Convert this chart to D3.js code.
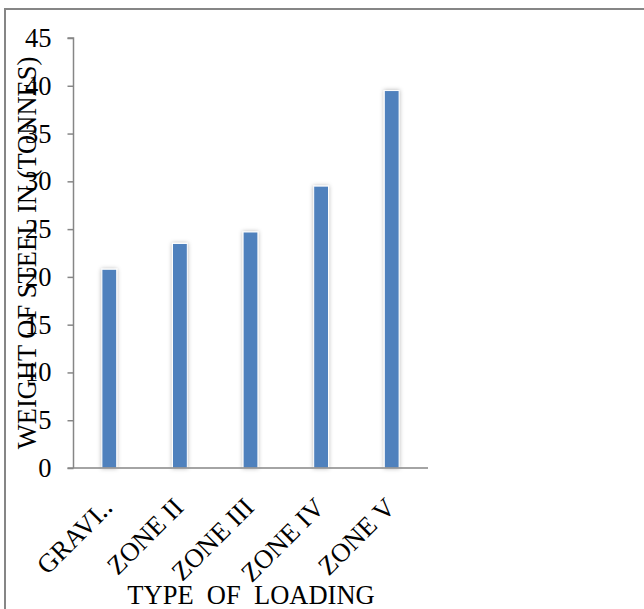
<!DOCTYPE html>
<html><head><meta charset="utf-8">
<script src="https://cdn.jsdelivr.net/npm/d3@7"></script>
<style>body{margin:0;background:#fff}svg{display:block}</style>
</head><body>
<script>
const categories = ["GRAVI\u2025", "ZONE II", "ZONE III", "ZONE IV", "ZONE V"];
const values = [20.8, 23.5, 24.7, 29.5, 39.5];
const yTicks = [0, 5, 10, 15, 20, 25, 30, 35, 40, 45];
const yTitle = "WEIGHT OF STEEL IN (TONNES)";
const xTitle = "TYPE  OF  LOADING";

const W = 644, H = 609;
const font = "'Liberation Serif','Times New Roman',serif";
const svg = d3.select("body").append("svg").attr("width", W).attr("height", H);

const defs = svg.append("defs");
const f = defs.append("filter").attr("id","sh").attr("x","-60%").attr("y","-5%").attr("width","220%").attr("height","110%");
f.append("feDropShadow").attr("dx",0).attr("dy",0).attr("stdDeviation",2).attr("flood-color","#000").attr("flood-opacity",0.3);

svg.append("rect").attr("x",5).attr("y",9).attr("width",700).attr("height",700)
  .attr("fill","#fff").attr("stroke","#868686").attr("stroke-width",2);

const x0 = 73.5, x1 = 428, yTop = 38, yBot = 468;
const x = d3.scaleBand().domain(categories).range([x0 + 0.5, x1 - 1]).paddingInner(0.79).paddingOuter(0.395);
const y = d3.scaleLinear().domain([0, 45]).range([yBot, yTop]);

// bars
svg.append("g").selectAll("rect").data(values).join("rect")
  .attr("x",(d,i)=>x(categories[i]))
  .attr("width",x.bandwidth())
  .attr("y",d=>y(d))
  .attr("height",d=>y(0)-y(d))
  .attr("fill","#4F81BD")
  .attr("stroke","#fff").attr("stroke-width",1)
  .attr("filter","url(#sh)");

// y axis
const ya = svg.append("g").attr("transform",`translate(${x0},0)`)
  .call(d3.axisLeft(y).tickValues(yTicks).tickSize(6).tickPadding(16).tickFormat(d3.format("d")));
ya.select(".domain").attr("stroke","#868686").attr("stroke-width",1.5).attr("d",`M-6,${yTop}H0V${yBot}`);
ya.selectAll(".tick line").attr("stroke","#868686").attr("stroke-width",1.5);
ya.selectAll(".tick text").attr("font-family",font).attr("font-size",26.5).attr("fill","#000");

// x axis
const xa = svg.append("g").attr("transform",`translate(0,${yBot})`)
  .call(d3.axisBottom(x).tickSize(0).tickPadding(0));
xa.select(".domain").attr("stroke","#868686").attr("stroke-width",1.5).attr("d",`M${x0-6},0H${x1}`);
xa.selectAll(".tick text")
  .attr("font-family",font).attr("font-size",26.5).attr("fill","#000")
  .attr("text-anchor","end").attr("dy",0).attr("y",0)
  .attr("transform","translate(5,41) rotate(-45)");

// titles
svg.append("text").attr("transform",`translate(36,${(yTop+yBot)/2}) rotate(-90)`)
  .attr("text-anchor","middle").attr("font-family",font).attr("font-size",26.5).text(yTitle);
svg.append("text").attr("x",251).attr("y",604).attr("text-anchor","middle")
  .attr("font-family",font).attr("font-size",26.5).style("white-space","pre").text(xTitle);
</script>
</body></html>
